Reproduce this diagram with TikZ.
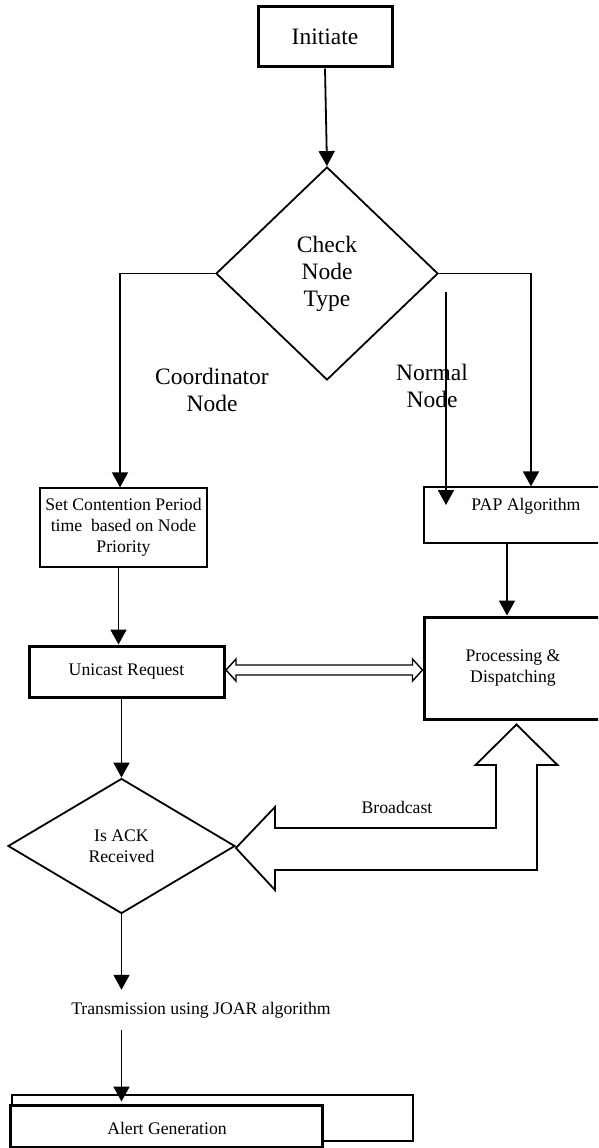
\documentclass[tikz,border=0pt]{standalone}
\usepackage{fontspec}
\setmainfont{Liberation Serif}
\usetikzlibrary{shapes.geometric,arrows.meta,calc}
\begin{document}
\begin{tikzpicture}[x=1pt,y=-1pt,
  big/.style={font=\fontsize{23.5}{27}\selectfont},
  small/.style={font=\fontsize{17.7}{21}\selectfont},
  thinbox/.style={draw,line width=1.3pt,rectangle,inner sep=0pt,small,align=center},
  thickbox/.style={draw,line width=3pt,rectangle,inner sep=0pt,small,align=center},
  dia/.style={draw,line width=1.8pt,diamond,inner sep=0pt,align=center},
  arr/.style={line width=1.8pt,-{Triangle[length=15pt,width=16pt]}},
  hollow/.style={line width=1.8pt,line join=miter},
  lbl/.style={inner sep=0pt,align=center}]
\useasboundingbox (0,0) rectangle (598,1148);
\clip (0,0) rectangle (598,1148);
\fill[white] (0,0) rectangle (598,1148);

% nodes
\node[thickbox,big,minimum width=134pt,minimum height=60pt] (init) at (325,37) {Initiate};
\node[dia,big,minimum width=222pt,minimum height=213pt] (chk) at (327,273.5) {Check\\Node\\Type};
\node[lbl,big] (coord) at (212,390) {Coordinator\\Node};
\node[lbl,big] (normal) at (432,386) {Normal\\Node};
\node[thinbox,minimum width=167pt,minimum height=79pt] (setc) at (123.5,527.5) {Set Contention Period\\time\ \ based on Node\\Priority};
\node[thinbox,minimum width=186pt,minimum height=56pt] (pap) at (517,515) {};
\node[lbl,small] (paptext) at (526,506) {PAP Algorithm};
\node[thickbox,minimum width=178pt,minimum height=102pt] (proc) at (513,668) {Processing \&\\Dispatching};
\node[thickbox,minimum width=195pt,minimum height=51pt] (uni) at (126.5,671.5) {Unicast Request};
\node[dia,small,minimum width=227pt,minimum height=135pt] (ack) at (121.5,846) {Is ACK\\Received};
\node[lbl,small] (bcast) at (397,807) {Broadcast};
\node[lbl,small,inner ysep=12pt] (trans) at (201,1010) {Transmission using JOAR algorithm};
\node[thinbox,minimum width=401pt,minimum height=46pt] (alertbg) at (212.5,1118) {};
\node[thickbox,fill=white,minimum width=312pt,minimum height=42pt] (alert) at (166,1126) {};
\node[lbl,small] (alerttext) at (167,1128) {Alert Generation};

% connectors
\draw[arr] (init.south) -- (chk.north);
\draw[arr] (chk.west) -| ([xshift=-3.5pt]setc.north);
\draw[arr] (chk.east) -| ([xshift=14pt]pap.north);
\coordinate (n1) at (446,292);
\coordinate (n2) at (446,505);
\draw[arr] (n1) -- (n2);
\draw[arr] ([xshift=-10pt]pap.south) -- ([xshift=-6pt]proc.north);
\draw[arr] ([xshift=-5pt]setc.south) -- ([xshift=-8pt]uni.north);
\draw[arr] (uni.south -| ack.north) -- (ack.north);
\coordinate (t1) at (ack.south |- trans.north);
\draw[arr] (ack.south) -- (t1);
\coordinate (t2) at (ack.south |- trans.south);
\coordinate (t3) at (ack.south |- alert.north);
\draw[arr] (t2) -- ([yshift=2pt]t3);

% double hollow arrow
\coordinate (dl) at (226,670);
\coordinate (dr) at (proc.west |- dl);
\draw[line width=1.4pt,line join=miter] (dl) -- ++(10,-11) -- ++(0,6) -- ($(dr)+(-10,-5)$) -- ++(0,-6) -- (dr)
  -- ++(-10,11) -- ++(0,-6) -- ($(dl)+(10,5)$) -- ++(0,6) -- cycle;

% broadcast hollow arrow
\coordinate (bl) at ($(ack.east)+(0,2)$);
\coordinate (bu) at ($(proc.south)+(3.5,4)$);
\draw[hollow] (bl) -- (275,807) -- (275,828) -- (496,828) -- (496,765) -- (475.5,765) -- (bu)
  -- (557.5,765) -- (537,765) -- (537,870) -- (275,870) -- (275,890) -- cycle;
\end{tikzpicture}
\end{document}
